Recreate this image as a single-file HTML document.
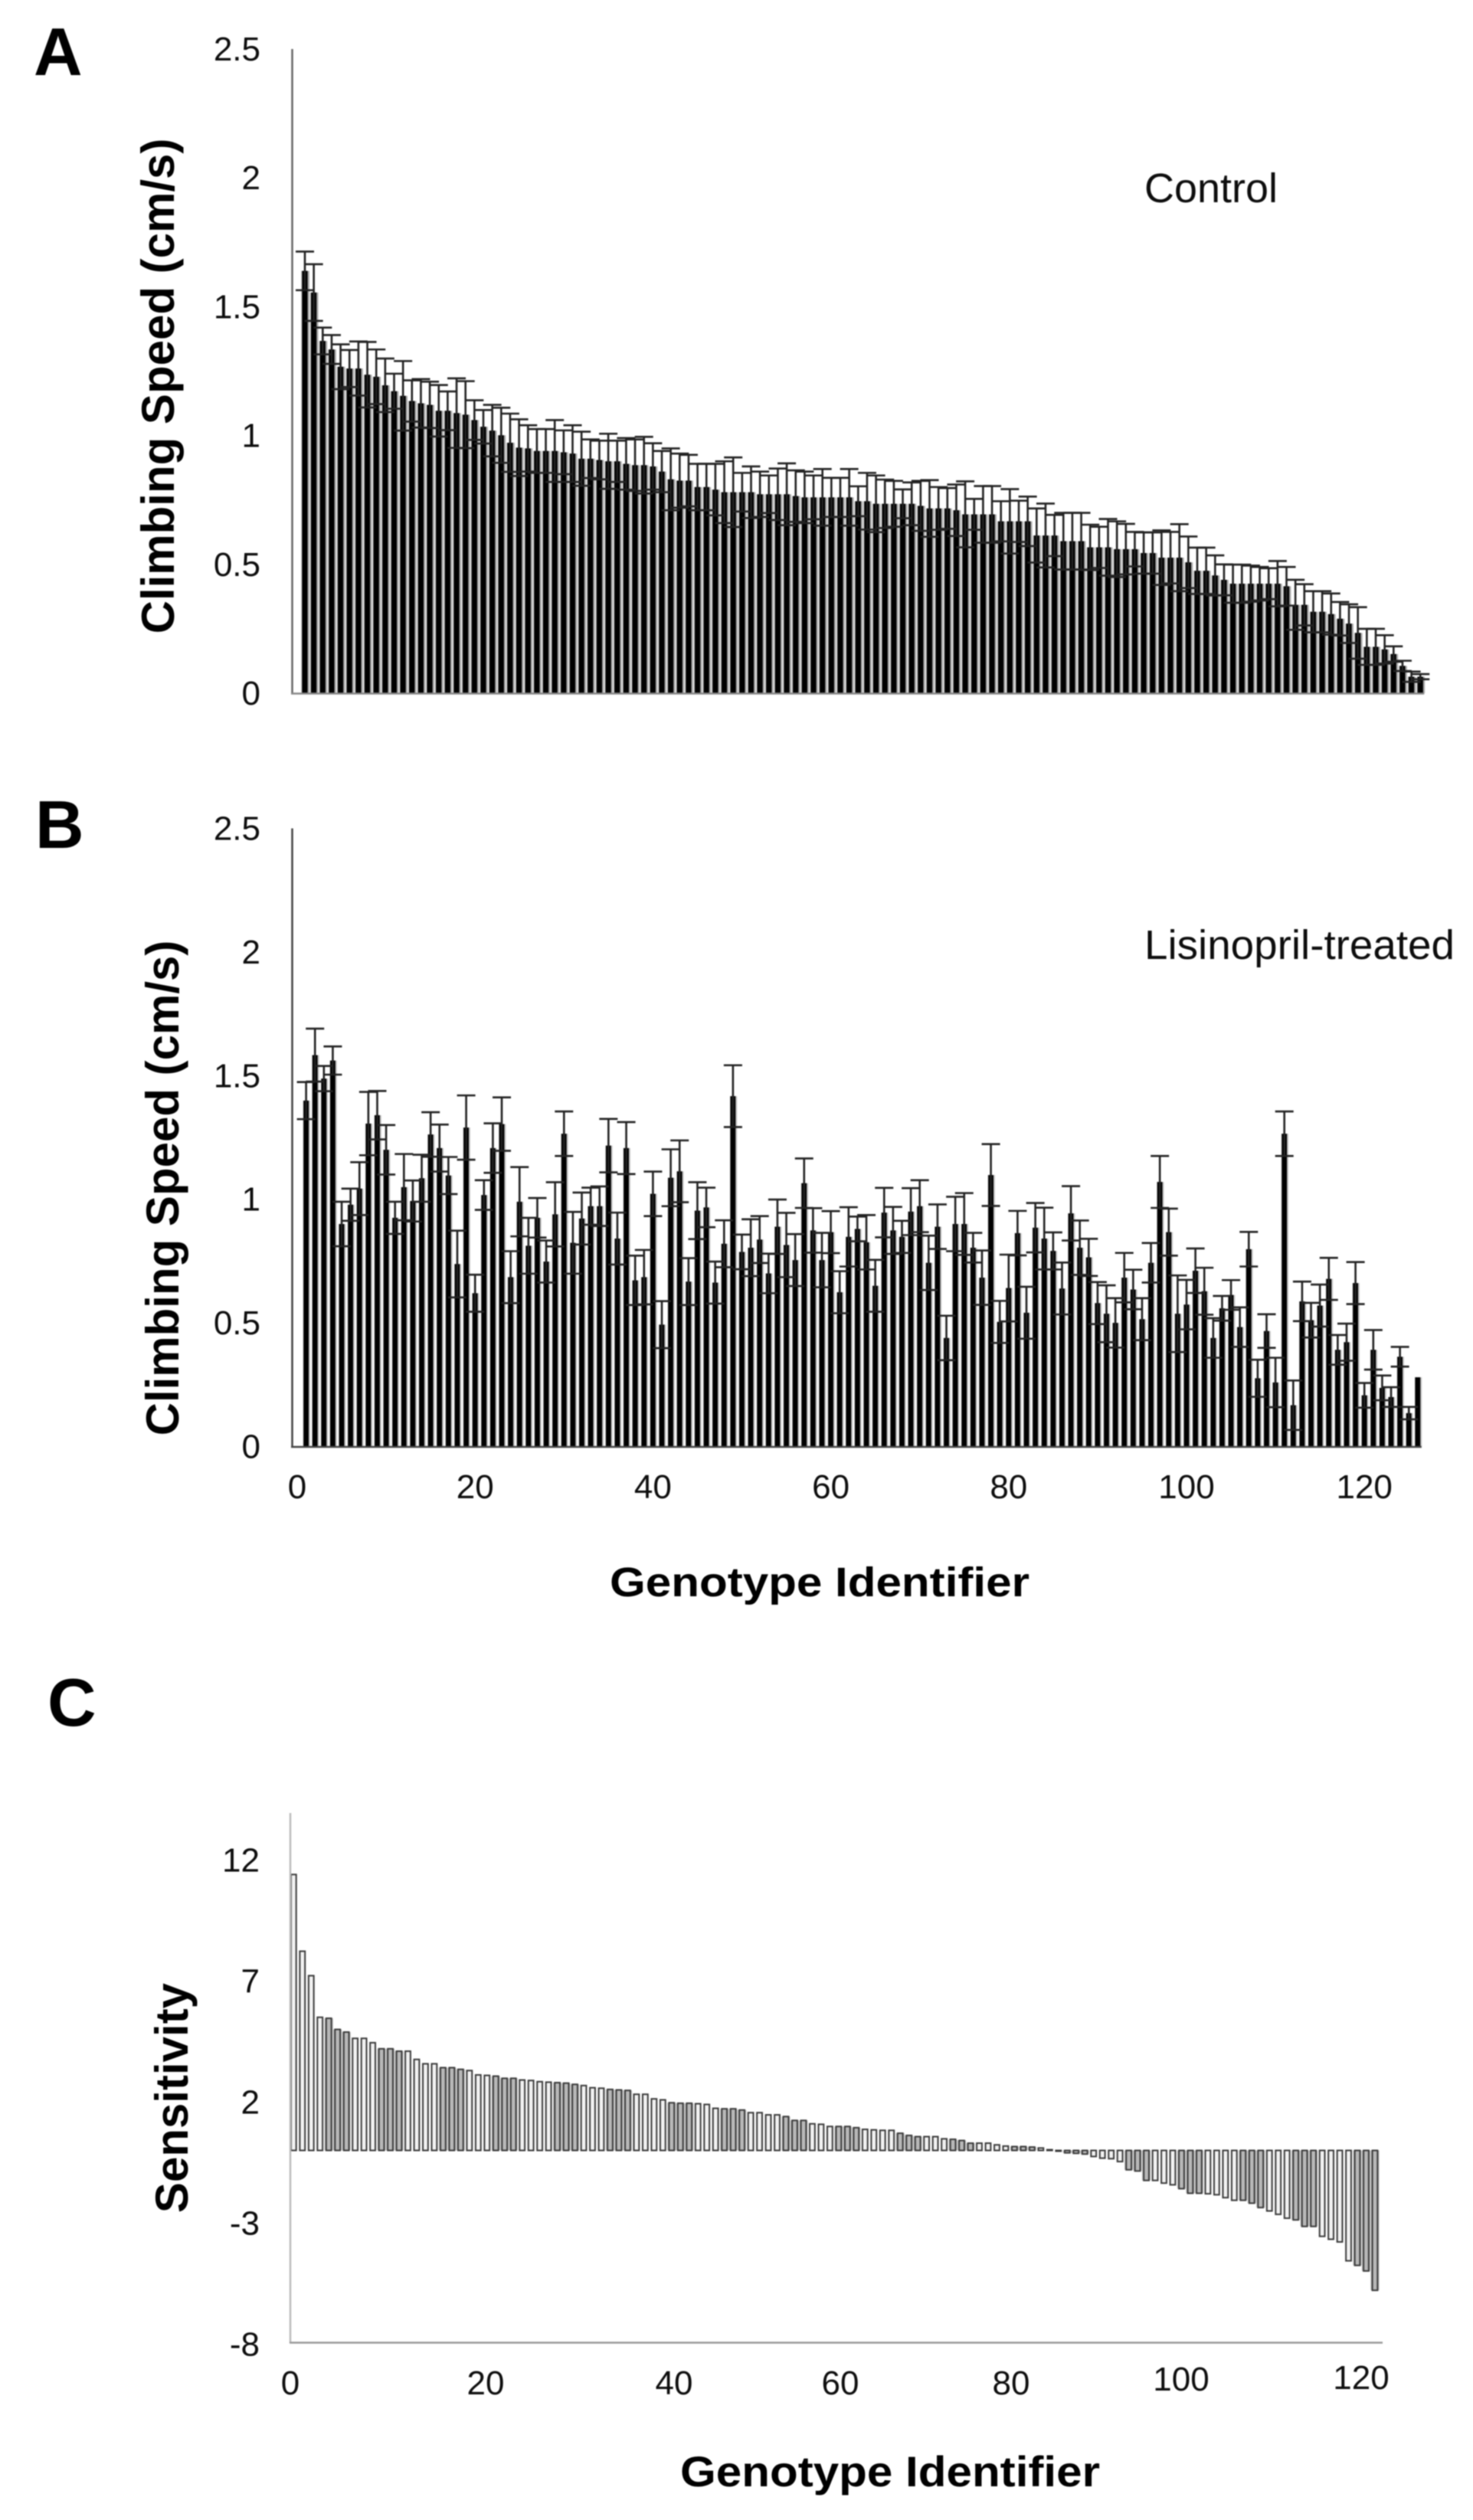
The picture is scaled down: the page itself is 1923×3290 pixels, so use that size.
<!DOCTYPE html>
<html lang="en">
<head>
<meta charset="utf-8">
<title>Climbing speed and lisinopril sensitivity by genotype</title>
<style>
html,body{margin:0;padding:0;background:#fff;width:1923px;height:3290px;overflow:hidden}
svg{display:block;filter:blur(0.7px)}
text{font-family:"Liberation Sans",Arial,sans-serif;fill:#0d0d0d}
.tick{font-size:44px}
.title{font-size:60px;font-weight:700;fill:#000}
.panel{font-size:88px;font-weight:700;fill:#000}
.note{font-size:54px}
</style>
</head>
<body>
<svg id="figure" xmlns="http://www.w3.org/2000/svg" width="1923" height="3290" viewBox="0 0 1923 3290">
  <rect width="1923" height="3290" fill="#fff"/>

  <g id="panelA"></g>
  <g id="panelB"></g>
  <g id="panelC"></g>

  <text class="panel" x="44" y="98">A</text>
  <text class="panel" x="46" y="1107">B</text>
  <text class="panel" x="62" y="2253">C</text>

  <text class="title" text-anchor="middle" transform="translate(227,504) rotate(-90)">Climbing Speed (cm/s)</text>
  <text class="title" text-anchor="middle" transform="translate(233,1551) rotate(-90)">Climbing Speed (cm/s)</text>
  <text class="title" text-anchor="middle" transform="translate(245,2739) rotate(-90)">Sensitivity</text>

  <text class="note" x="1494" y="264" textLength="174" lengthAdjust="spacingAndGlyphs">Control</text>
  <text class="note" x="1494" y="1252" textLength="405" lengthAdjust="spacingAndGlyphs">Lisinopril-treated</text>

  <text class="title" style="font-size:54px" x="796" y="2084" textLength="548" lengthAdjust="spacingAndGlyphs">Genotype Identifier</text>
  <text class="title" style="font-size:56px" x="888" y="3246" textLength="548" lengthAdjust="spacingAndGlyphs">Genotype Identifier</text>

  <g text-anchor="middle">
    <text class="tick" x="379" y="3126">0</text>
    <text class="tick" x="634" y="3126">20</text>
    <text class="tick" x="880" y="3126">40</text>
    <text class="tick" x="1097" y="3126">60</text>
    <text class="tick" x="1320" y="3126">80</text>
    <text class="tick" x="1542" y="3121">100</text>
    <text class="tick" x="1777" y="3119">120</text>
  </g>
</svg>

<script>
// Panel A: control climbing speed (cm/s), genotype 1..126
const controlValues = [
1.639,1.555,1.367,1.334,1.267,1.26,1.26,1.236,1.228,1.195,
1.172,1.154,1.134,1.125,1.119,1.096,1.096,1.087,1.081,1.06,
1.034,1.019,1.001,.972,.953,.95,.94,.94,.94,.935,
.93,.91,.91,.905,.9,.9,.89,.885,.885,.88,
.86,.83,.825,.825,.8,.8,.79,.78,.78,.78,
.78,.772,.772,.772,.772,.765,.76,.76,.76,.76,
.76,.76,.745,.745,.735,.735,.735,.735,.735,.727,
.717,.717,.717,.71,.694,.694,.694,.694,.667,.667,
.667,.667,.612,.612,.612,.59,.59,.59,.566,.566,
.566,.559,.559,.559,.544,.544,.526,.526,.526,.508,
.475,.475,.457,.44,.425,.425,.425,.425,.425,.425,
.415,.343,.343,.316,.316,.307,.289,.27,.234,.18,
.18,.17,.152,.106,.064,.064];
const controlErrors = [
.075,.11,.052,.056,.087,.072,.105,.127,.106,.104,
.068,.135,.08,.094,.09,.1,.075,.135,.13,.077,
.065,.1,.107,.113,.11,.09,.085,.085,.12,.085,
.11,.105,.075,.075,.107,.08,.1,.1,.11,.09,
.08,.12,.105,.1,.09,.09,.1,.12,.135,.075,
.1,.088,.073,.1,.12,.1,.1,.085,.11,.076,
.076,.11,.058,.11,.11,.094,.089,.056,.083,.097,
.11,.083,.079,.1,.128,.06,.11,.11,.078,.125,
.08,.096,.105,.124,.08,.11,.11,.11,.088,.08,
.11,.108,.098,.067,.08,.08,.106,.1,.13,.1,
.09,.09,.078,.06,.074,.074,.07,.065,.06,.088,
.075,.097,.08,.08,.08,.08,.065,.075,.1,.07,
.07,.055,.03,.02,.02,.01];

// Panel B: lisinopril-treated climbing speed (cm/s), genotype 1..126
const treatedValues = [
1.399,1.583,1.488,1.561,.9,.978,1.043,1.306,1.34,1.2,
.925,1.049,.993,1.085,1.262,1.207,1.096,.738,1.29,.62,
1.017,1.207,1.304,.685,.99,.812,.925,.748,.939,1.265,
.824,.922,.972,.972,1.217,.841,1.207,.672,.685,1.022,
.493,1.087,1.113,.667,.954,.967,.663,.82,1.417,.787,
.804,.837,.7,.889,.815,.754,1.065,.874,.754,.867,
.624,.848,.88,.826,.65,.946,.874,.848,.95,.972,
.743,.889,.439,.9,.9,.804,.683,1.098,.504,.641,
.863,.541,.885,.841,.791,.639,.943,.804,.765,.58,
.537,.5,.683,.635,.515,.743,1.07,.867,.537,.574,
.711,.628,.439,.559,.613,.483,.798,.276,.467,.259,
1.265,.167,.587,.511,.57,.678,.391,.422,.661,.207,
.391,.237,.2,.363,.135,.28];
const treatedErrors = [
.075,.107,.051,.057,.09,.065,.107,.128,.098,.1,
.065,.134,.083,.095,.09,.095,.075,.135,.13,.075,
.06,.1,.108,.105,.14,.113,.08,.085,.13,.09,
.125,.105,.075,.08,.108,.105,.105,.1,.11,.09,
.095,.115,.125,.095,.115,.08,.085,.095,.125,.07,
.115,.095,.08,.11,.13,.105,.1,.09,.11,.085,
.085,.12,.05,.11,.105,.1,.095,.065,.095,.105,
.11,.09,.09,.11,.125,.06,.11,.125,.085,.135,
.09,.105,.1,.125,.075,.105,.11,.11,.075,.085,
.115,.1,.1,.08,.085,.08,.105,.095,.155,.1,
.09,.095,.08,.05,.06,.08,.07,.075,.068,.1,
.09,.1,.08,.07,.085,.085,.06,.075,.085,.05,
.08,.05,.04,.04,.025,0];

// Panel C: sensitivity, genotype rank 0..123
const sensitivityValues = [
11.4,8.23,7.22,5.5,5.46,5,4.89,4.63,4.63,4.45,
4.2,4.2,4.1,4.1,3.76,3.58,3.58,3.42,3.42,3.35,
3.3,3.12,3.1,3.07,2.98,2.98,2.91,2.89,2.84,2.82,
2.8,2.78,2.73,2.68,2.59,2.57,2.52,2.5,2.48,2.32,
2.32,2.13,2.09,1.97,1.95,1.95,1.93,1.9,1.74,1.72,
1.72,1.67,1.56,1.56,1.47,1.47,1.4,1.24,1.24,1.1,
1.08,.99,.99,.99,.94,.87,.85,.83,.83,.71,
.62,.57,.57,.57,.48,.46,.41,.3,.3,.3,
.23,.18,.16,.16,.14,.1,.03,-.02,-.1,-.12,
-.15,-.25,-.32,-.34,-.46,-.8,-.85,-1.24,-1.24,-1.35,
-1.42,-1.58,-1.77,-1.77,-1.79,-1.83,-1.95,-2.06,-2.06,-2.18,
-2.36,-2.5,-2.64,-2.8,-2.87,-3.14,-3.14,-3.55,-3.67,-3.78,
-4.56,-4.75,-4.98,-5.78];

const speedTickLabels = ["0","0.5","1","1.5","2","2.5"];
const speedTickValues = [0,0.5,1,1.5,2,2.5];
const genotypeTickValues = [0,20,40,60,80,100,120];
const sensitivityTickValues = [12,7,2,-3,-8];

const SVGNS = "http://www.w3.org/2000/svg";
function make(parent, tag, props) {
  const el = document.createElementNS(SVGNS, tag);
  for (const k in props) el.setAttribute(k, props[k]);
  parent.appendChild(el);
  return el;
}

// Axis functions
const xA = i => 398 + 11.65 * i;
const yA = v => 905 - 336.4 * v;
const xB = g => 388 + 11.61 * g;
const yB = v => 1888.5 - 322.8 * v;
const xC = i => 383.3 + 11.477 * i;
const yC = v => 2807.5 - 31.6 * v;

function drawSpeedPanel(group, values, errors, xOf, yOf, axisColor, baseColor, barPrefix, halo, barW, haloColor) {
  const y0 = yOf(0);
  const capW = 24;
  values.forEach(function (v, i) {
    const cx = xOf(i);
    const h = make(group, "rect", {x: cx - halo / 2 + 0.6, y: yOf(v), width: halo, height: y0 - yOf(v), fill: haloColor});
    
    
  });
  values.forEach(function (v, i) {
    const cx = xOf(i);
    const b = make(group, "rect", {x: cx - barW / 2, y: yOf(v), width: barW, height: y0 - yOf(v), fill: "#000"});
    
    
  });
  values.forEach(function (v, i) {
    const e = errors[i];
    if (!e) return;
    const cx = xOf(i);
    const eb = make(group, "path", {
      d: "M" + cx + " " + yOf(v + e) + "V" + yOf(v - e) +
         "M" + (cx - capW / 2) + " " + yOf(v + e) + "h" + capW +
         "M" + (cx - capW / 2) + " " + yOf(v - e) + "h" + capW,
      fill: "none", stroke: "#222", "stroke-width": 2.6
    });
    
    
  });
  speedTickValues.forEach(function (t, k) {
    const lb = make(group, "text", {class: "tick", x: 340, y: yOf(t) + 15, "text-anchor": "end"});
    lb.textContent = speedTickLabels[k];
    
    
  });
  const ax = make(group, "line", {x1: 381.5, x2: 381.5, y1: yOf(2.5), y2: y0 + 1, stroke: axisColor, "stroke-width": 2.5});
  
  
  const bx = make(group, "line", {x1: 380, x2: xOf(values.length - 1) + 5, y1: y0 + 0.5, y2: y0 + 0.5, stroke: baseColor, "stroke-width": 2.5});
  
  
}

const panelA = document.getElementById("panelA");
const panelB = document.getElementById("panelB");
const panelC = document.getElementById("panelC");

drawSpeedPanel(panelA, controlValues, controlErrors, xA, yA, "#666", "#888", "control", 10.6, 7.2, "#a8a8a8");
drawSpeedPanel(panelB, treatedValues, treatedErrors, i => xB(i + 1), yB, "#444", "#444", "lisinopril", 9.5, 6.8, "#c4c4c4");

genotypeTickValues.forEach(function (t) {
  const lb = make(panelB, "text", {class: "tick", x: xB(t), y: 1956, "text-anchor": "middle"});
  lb.textContent = String(t);
  
  
});

// Panel C bars: outlined, with a faint grey banding
sensitivityValues.forEach(function (v, i) {
  const cx = xC(i);
  const top = Math.min(yC(v), yC(0));
  const h = Math.max(Math.abs(yC(v) - yC(0)), 1);
  const band = (i + 3) % 6.5 < 3;
  if (band) {
    const s = make(panelC, "rect", {x: cx - 5.7, y: top, width: 11.4, height: h, fill: "#c2c2c2"});
    
    
  }
  const r = make(panelC, "rect", {x: cx - 3.4, y: top, width: 6.8, height: h,
    fill: band ? "#b8b8b8" : "#f2f2f2", stroke: "#3a3a3a", "stroke-width": 2});
  
  
});
sensitivityTickValues.forEach(function (t) {
  const lb = make(panelC, "text", {class: "tick", x: 339, y: yC(t) + 15, "text-anchor": "end"});
  lb.textContent = String(t);
  
  
});
const axC = make(panelC, "line", {x1: 379, x2: 379, y1: 2367, y2: 3059, stroke: "#bbb", "stroke-width": 2.5});


const bxC = make(panelC, "line", {x1: 378, x2: 1805, y1: 3058.5, y2: 3058.5, stroke: "#999", "stroke-width": 2.5});


</script>
</body>
</html>
